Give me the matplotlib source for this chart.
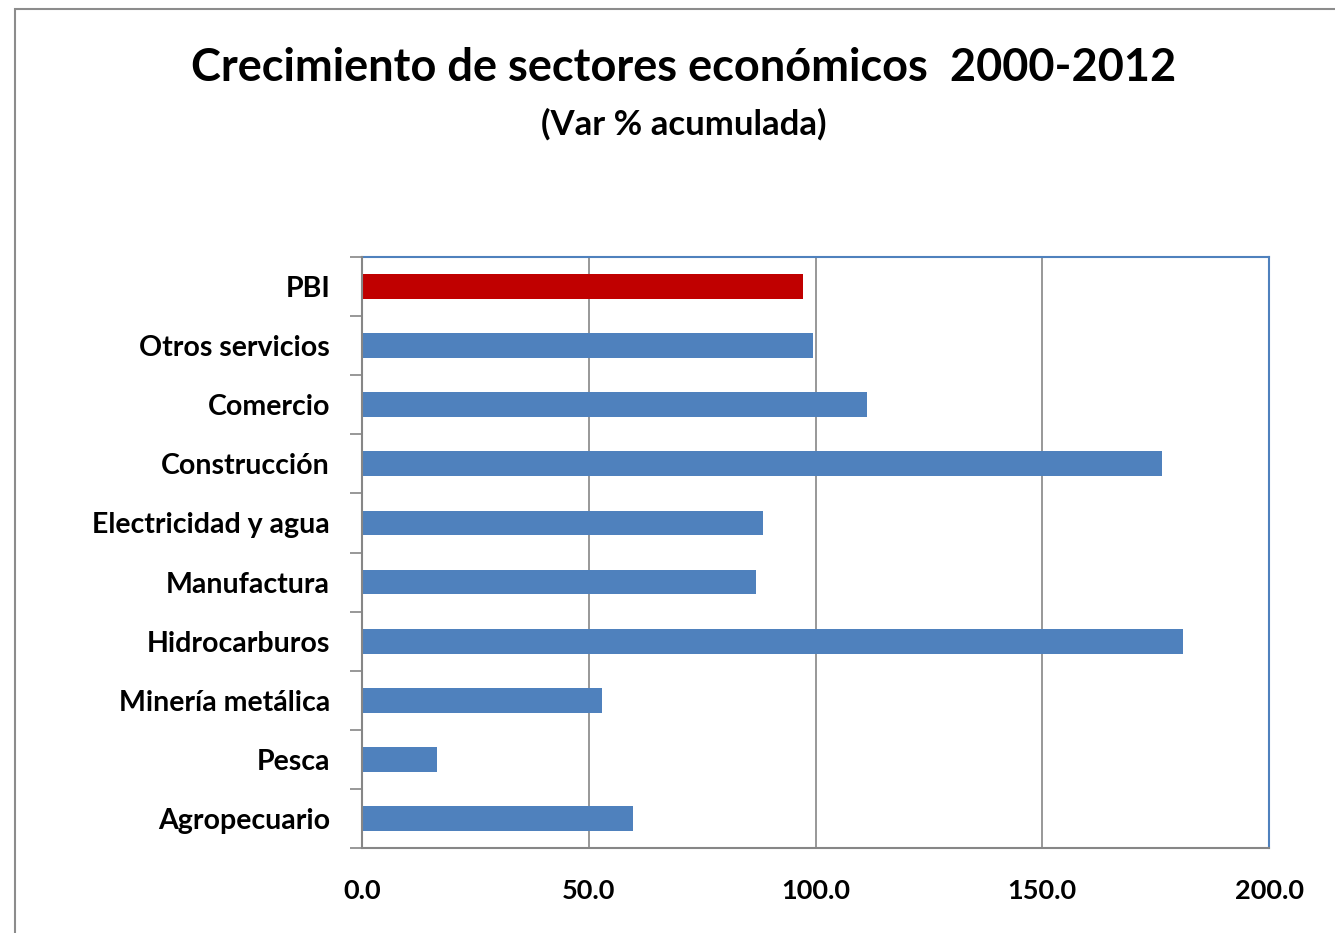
import matplotlib
matplotlib.use("Agg")
import matplotlib.pyplot as plt
from matplotlib.patches import Rectangle

categories = ["PBI", "Otros servicios", "Comercio", "Construcción", "Electricidad y agua",
              "Manufactura", "Hidrocarburos", "Minería metálica", "Pesca", "Agropecuario"]
values = [97.2, 99.4, 111.4, 176.4, 88.4, 86.9, 181.0, 52.9, 16.5, 59.8]
xticks = [0, 50, 100, 150, 200]
xtick_labels = ["0.0", "50.0", "100.0", "150.0", "200.0"]

W, H = 1335, 933
fig = plt.figure(figsize=(W/100, H/100), dpi=100)
fam = ["Lato", "DejaVu Sans"]

# outer border (extends beyond right/bottom edges)
fig.patches.append(Rectangle((15/W, -0.5), 1.5, 1.5 - 9/H, transform=fig.transFigure,
                             fill=False, edgecolor="#8c8c8c", linewidth=1.5))

ax = fig.add_axes([362/W, 1 - 848/H, (1269-362)/W, (848-257)/H])
n = len(categories)
ypos = list(range(n))[::-1]
colors = ["#C00000"] + ["#4F81BD"] * (n - 1)
ax.barh(ypos, values, height=0.42, color=colors, zorder=3)
ax.set_xlim(0, 200)
ax.set_ylim(-0.5, n - 0.5)
ax.set_xticks(xticks)
ax.set_xticklabels(xtick_labels, fontsize=19.5, fontweight="bold", family=fam)
ax.set_yticks(ypos)
ax.set_yticklabels(categories, fontsize=20.5, fontweight="bold", family=fam)
ax.tick_params(axis="y", length=0, pad=23)
ax.tick_params(axis="x", length=0, pad=22)
# boundary ticks on y axis
ax.set_yticks([i - 0.5 for i in range(n + 1)], minor=True)
ax.tick_params(axis="y", which="minor", length=9, width=1.2, color="#868686", direction="out")
ax.set_xticks(xticks, minor=True)
ax.tick_params(axis="x", which="minor", length=9, width=1.2, color="#868686", direction="out")
ax.xaxis.grid(True, color="#868686", linewidth=1.2, zorder=0)
for s in ["left", "bottom"]:
    ax.spines[s].set_color("#868686")
    ax.spines[s].set_linewidth(1.5)
for s in ["top", "right"]:
    ax.spines[s].set_color("#4F81BD")
    ax.spines[s].set_linewidth(1.5)
ax.spines["left"].set_zorder(4)

fig.text(684/W, 1 - 68/H, "Crecimiento de sectores económicos  2000-2012", ha="center", va="center",
         fontsize=32.5, fontweight="bold", family=fam)
fig.text(684/W, 1 - 124/H, "(Var % acumulada)", ha="center", va="center",
         fontsize=25, fontweight="bold", family=fam)

fig.savefig("out.png", dpi=100)
